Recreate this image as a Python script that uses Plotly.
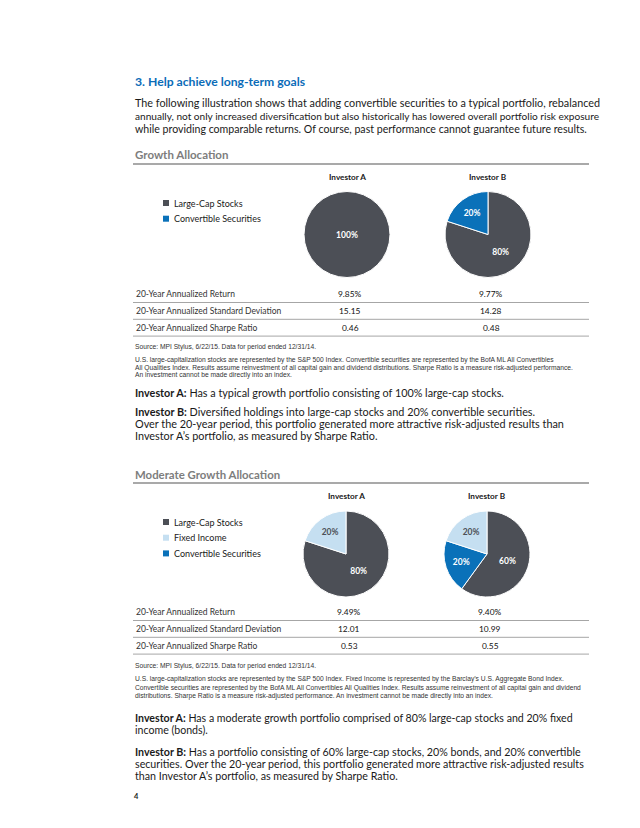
import plotly.graph_objects as go

# page is 640x828; the html body adds an 8px margin, so the figure is 632x820
# and all layout coordinates below are page pixels.
OFF = 8
W, H = 640 - OFF, 828 - OFF

# ---------------- data ----------------
growth_a_labels = ["Large-Cap Stocks"]
growth_a_values = [100]
growth_b_labels = ["Large-Cap Stocks", "Convertible Securities"]
growth_b_values = [80, 20]

moderate_a_labels = ["Large-Cap Stocks", "Fixed Income"]
moderate_a_values = [80, 20]
moderate_b_labels = ["Large-Cap Stocks", "Convertible Securities", "Fixed Income"]
moderate_b_values = [60, 20, 20]

growth_legend = ["Large-Cap Stocks", "Convertible Securities"]
moderate_legend = ["Large-Cap Stocks", "Fixed Income", "Convertible Securities"]

metric_labels = ["20-Year Annualized Return",
                 "20-Year Annualized Standard Deviation",
                 "20-Year Annualized Sharpe Ratio"]
growth_a_stats = ["9.85%", "15.15", "0.46"]
growth_b_stats = ["9.77%", "14.28", "0.48"]
moderate_a_stats = ["9.49%", "12.01", "0.53"]
moderate_b_stats = ["9.40%", "10.99", "0.55"]

investor_titles = ["Investor A", "Investor B"]

# ---------------- styles ----------------
C_DARK = "#4c4f56"
C_BLUE = "#0a71b9"
C_LIGHT = "#c5dff1"
colors = {"Large-Cap Stocks": C_DARK, "Convertible Securities": C_BLUE, "Fixed Income": C_LIGHT}
txtcol = {"Large-Cap Stocks": "white", "Convertible Securities": "white", "Fixed Income": C_DARK}

BODY = "Lato, 'Noto Sans', sans-serif"
NARROW = "'Liberation Sans Narrow', 'Arial Narrow', 'Liberation Sans', sans-serif"
TXT = "#1a1a1a"

fig = go.Figure()

def px_domain(cx, cy, r):
    cx, cy = cx - OFF, cy - OFF
    return dict(x=[(cx - r) / W, (cx + r) / W], y=[1 - (cy + r) / H, 1 - (cy - r) / H])

def add_pie(labels, values, cx, cy, r=43):
    fig.add_trace(go.Pie(
        labels=labels, values=values, sort=False, direction="clockwise", rotation=0,
        domain=px_domain(cx, cy, r),
        marker=dict(colors=[colors[l] for l in labels], line=dict(color="white", width=1)),
        texttemplate="<b>%{value}%</b>", textposition="inside", insidetextorientation="horizontal",
        textfont=dict(family=BODY, size=8.5, color=[txtcol[l] for l in labels]),
        showlegend=False, hoverinfo="label+percent"))

add_pie(growth_a_labels, growth_a_values, 347, 234.5)
add_pie(growth_b_labels, growth_b_values, 488, 234.5)
add_pie(moderate_a_labels, moderate_a_values, 346, 554)
add_pie(moderate_b_labels, moderate_b_values, 487, 554)

ann = []
shapes = []

def text(x, y, s, size, color=TXT, family=BODY, anchor="left"):
    ann.append(dict(x=x, y=y, xref="x", yref="y", text=s, showarrow=False,
                    xanchor=anchor, yanchor="middle", borderpad=0,
                    font=dict(size=size, color=color, family=family)))

def hline(y, x0=133, x1=589, color="#a6a6a6", width=1):
    shapes.append(dict(type="line", xref="x", yref="y", x0=x0, x1=x1, y0=y, y1=y,
                       line=dict(color=color, width=width)))

L = 134
# heading
text(L, 81, "<b>3. Help achieve long-term goals</b>", 12.2, color="#0b6cb8")
para = [("The following illustration shows that adding convertible securities to a typical portfolio, rebalanced", 10.8),
        ("annually, not only increased diversification but also historically has lowered overall portfolio risk exposure", 10.1),
        ("while providing comparable returns. Of course, past performance cannot guarantee future results.", 10.6)]
for i, (s, fs) in enumerate(para):
    text(L, 102 + i * 13.7, s, fs)

def section(title, ty, ly, pies_y_title, cx_a, cx_b, legend_items, legend_y0, table_y, stats_a, stats_b, tsize):
    text(L, ty, "<b>" + title + "</b>", tsize, color="#7d7d7d")
    hline(ly, color="#8c8c8c", width=1.5)
    text(cx_a, pies_y_title, "<b>" + investor_titles[0] + "</b>", 8.2, anchor="center")
    text(cx_b, pies_y_title, "<b>" + investor_titles[1] + "</b>", 8.2, anchor="center")
    for i, lab in enumerate(legend_items):
        yy = legend_y0 + i * 15.7
        shapes.append(dict(type="rect", xref="x", yref="y", x0=163, x1=169, y0=yy - 3, y1=yy + 3,
                           fillcolor=colors[lab], line=dict(width=0)))
        text(173, yy, lab, 9.0)
    for i, lab in enumerate(metric_labels):
        yy = table_y + i * 16.8
        text(L + 1, yy, lab, 8.5, color="#333333")
        text(cx_a + 3, yy, stats_a[i], 8.4, color="#111111", anchor="center")
        text(cx_b + 3, yy, stats_b[i], 8.4, color="#111111", anchor="center")
        hline(yy + 8.5)

section("Growth Allocation", 154, 164, 177, 347, 488, growth_legend, 203, 294,
        growth_a_stats, growth_b_stats, 11.5)

text(L, 347, "Source: MPI Stylus, 6/22/15. Data for period ended 12/31/14.", 6.7, color="#333333", family=NARROW)
foot1 = ["U.S. large-capitalization stocks are represented by the S&P 500 Index. Convertible securities are represented by the BofA ML All Convertibles",
         "All Qualities Index. Results assume reinvestment of all capital gain and dividend distributions. Sharpe Ratio is a measure risk-adjusted performance.",
         "An investment cannot be made directly into an index."]
for i, s in enumerate(foot1):
    text(L, 360 + i * 7.6, s, 6.7, color="#333333", family=NARROW)

text(L, 392, "<b>Investor A:</b> Has a typical growth portfolio consisting of 100% large-cap stocks.", 10.8)
invb1 = ["<b>Investor B:</b> Diversified holdings into large-cap stocks and 20% convertible securities.",
         "Over the 20-year period, this portfolio generated more attractive risk-adjusted results than",
         "Investor A\u2019s portfolio, as measured by Sharpe Ratio."]
for i, s in enumerate(invb1):
    text(L, 411 + i * 12.3, s, 10.85)

section("Moderate Growth Allocation", 474, 483, 496, 346, 487, moderate_legend, 522, 612,
        moderate_a_stats, moderate_b_stats, 11.4)

text(L, 666, "Source: MPI Stylus, 6/22/15. Data for period ended 12/31/14.", 6.7, color="#333333", family=NARROW)
foot2 = ["U.S. large-capitalization stocks are represented by the S&P 500 Index. Fixed Income is represented by the Barclay\u2019s U.S. Aggregate Bond Index.",
         "Convertible securities are represented by the BofA ML All Convertibles All Qualities Index. Results assume reinvestment of all capital gain and dividend",
         "distributions. Sharpe Ratio is a measure risk-adjusted performance. An investment cannot be made directly into an index."]
for i, s in enumerate(foot2):
    text(L, 679 + i * 8.7, s, 6.7, color="#333333", family=NARROW)

inva2 = ["<b>Investor A:</b> Has a moderate growth portfolio comprised of 80% large-cap stocks and 20% fixed",
         "income (bonds)."]
for i, s in enumerate(inva2):
    text(L, 717.5 + i * 12.3, s, 10.6)
invb2 = ["<b>Investor B:</b> Has a portfolio consisting of 60% large-cap stocks, 20% bonds, and 20% convertible",
         "securities. Over the 20-year period, this portfolio generated more attractive risk-adjusted results",
         "than Investor A\u2019s portfolio, as measured by Sharpe Ratio."]
for i, s in enumerate(invb2):
    text(L, 751 + i * 12.3, s, 10.7)

text(133, 796, "<b>4</b>", 7.5)

fig.update_layout(
    width=W, height=H, margin=dict(l=0, r=0, t=0, b=0),
    paper_bgcolor="white", plot_bgcolor="white",
    xaxis=dict(range=[OFF, OFF + W], visible=False, domain=[0, 1], fixedrange=True),
    yaxis=dict(range=[OFF + H, OFF], visible=False, domain=[0, 1], fixedrange=True),
    annotations=ann, shapes=shapes, showlegend=False,
)

fig.write_html("out.html")
